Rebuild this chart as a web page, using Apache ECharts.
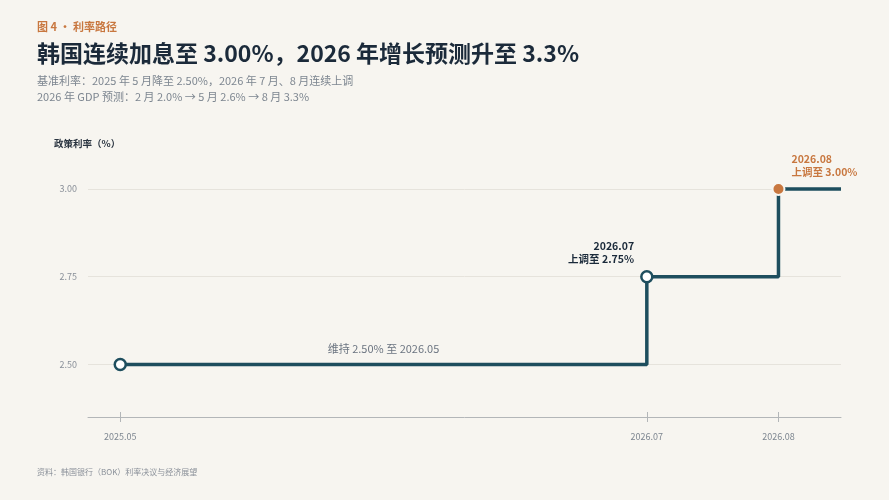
<!DOCTYPE html>
<html><head><meta charset="utf-8">
<script src="https://cdn.jsdelivr.net/npm/echarts@6/dist/echarts.min.js"></script>
<style>html,body{margin:0;padding:0;background:#f7f5f0}#c{width:889px;height:500px}</style>
</head><body><div id="c"></div>
<script>
// ---- data ----
const dateLabels = ['2025.05', '2026.07', '2026.08'];
const datePos = [0, 4, 5];          // position of each date on the compressed x scale
const rates = [2.50, 2.75, 3.00];
const endPos = 5.475;                // line continues to right edge
const yTicks = [2.50, 2.75, 3.00];
const holdNote = '维持 2.50% 至 2026.05';
const notes = ['', '2026.07\n上调至 2.75%', '2026.08\n上调至 3.00%'];

const FONT = '"Noto Sans CJK SC","Noto Sans",sans-serif';
const DARK = '#1e4e5e';
const ORANGE = '#c8773f';
const BG = '#f7f5f0';

const lineData = rates.map((r, i) => {
  const item = { value: [datePos[i], r] };
  if (i === 2) {
    item.symbolSize = 12;
    item.itemStyle = { color: ORANGE, borderColor: BG, borderWidth: 2 };
    item.label = { show: true, position: 'right', distance: 6, offset: [0, -24], align: 'left',
      formatter: notes[i], color: ORANGE, fontSize: 10.5, fontWeight: 'bold', lineHeight: 13, fontFamily: FONT };
  } else if (i === 1) {
    item.label = { show: true, position: 'left', distance: 6, offset: [0, -24], align: 'right',
      formatter: notes[i], color: '#1b2a3a', fontSize: 10.5, fontWeight: 'bold', lineHeight: 13, fontFamily: FONT };
  }
  return item;
});
lineData.push({ value: [endPos, rates[rates.length - 1]], symbol: 'none' });

const chart = echarts.init(document.getElementById('c'));
const t = (text, left, top, size, weight, color) =>
  ({ text, left, top, padding: 0, textStyle: { fontSize: size, fontWeight: weight, color, fontFamily: FONT } });
chart.setOption({
  backgroundColor: BG,
  animation: false,
  textStyle: { fontFamily: FONT },
  title: [
    t('图 4 · 利率路径', 37, 21, 11, 'bold', ORANGE),
    t('韩国连续加息至 3.00%，2026 年增长预测升至 3.3%', 37, 42, 23, 'bold', '#1b2a3a'),
    t('基准利率：2025 年 5 月降至 2.50%，2026 年 7 月、8 月连续上调', 37, 75, 11, 'normal', '#7d8690'),
    t('2026 年 GDP 预测：2 月 2.0% → 5 月 2.6% → 8 月 3.3%', 37, 91, 11, 'normal', '#7d8690'),
    t('政策利率（%）', 54, 139, 9.5, 'bold', '#2a3440'),
    t('资料：韩国银行（BOK）利率决议与经济展望', 37, 468, 8, 'normal', '#8a9099')
  ],
  grid: { left: 88, right: 48, top: 154, bottom: 83 },
  xAxis: [{
    type: 'value', min: -0.245, max: endPos,
    axisLine: { show: true, lineStyle: { color: '#b3b6b8', width: 1 } },
    axisTick: { show: true, customValues: datePos, length: 5, lineStyle: { color: '#b3b6b8' } },
    axisLabel: { show: true, customValues: datePos, margin: 15, fontSize: 9, color: '#7d8690',
      formatter: v => dateLabels[datePos.indexOf(v)] || '' },
    splitLine: { show: false }
  }, {
    type: 'value', min: -0.245, max: endPos, position: 'bottom',
    axisLine: { show: false },
    axisTick: { show: true, inside: true, customValues: datePos, length: 5, lineStyle: { color: '#b3b6b8' } },
    axisLabel: { show: false },
    splitLine: { show: false }
  }],
  yAxis: {
    type: 'value', min: 2.35, max: 3.1,
    axisLine: { show: false }, axisTick: { show: false },
    axisLabel: { customValues: yTicks, margin: 11, fontSize: 9, color: '#8a9099', formatter: v => v.toFixed(2) },
    splitLine: { show: false }
  },
  series: [{
    type: 'line',
    step: 'end',
    data: lineData,
    symbol: 'circle',
    symbolSize: 11,
    showAllSymbol: true,
    lineStyle: { color: DARK, width: 3.5 },
    itemStyle: { color: '#ffffff', borderColor: DARK, borderWidth: 2.5 },
    z: 5,
    markLine: {
      silent: true, symbol: 'none', z: 1,
      label: { show: false },
      lineStyle: { color: '#e6e3dc', width: 1, type: 'solid' },
      data: yTicks.map(v => ({ yAxis: v }))
    },
    markPoint: {
      silent: true,
      data: [{ coord: [(datePos[0] + datePos[1]) / 2, rates[0]], symbol: 'circle', symbolSize: 0,
        label: { show: true, position: 'inside', offset: [0, -16], formatter: holdNote, fontSize: 11, color: '#6b7480', fontFamily: FONT } }]
    }
  }]
});
</script></body></html>
